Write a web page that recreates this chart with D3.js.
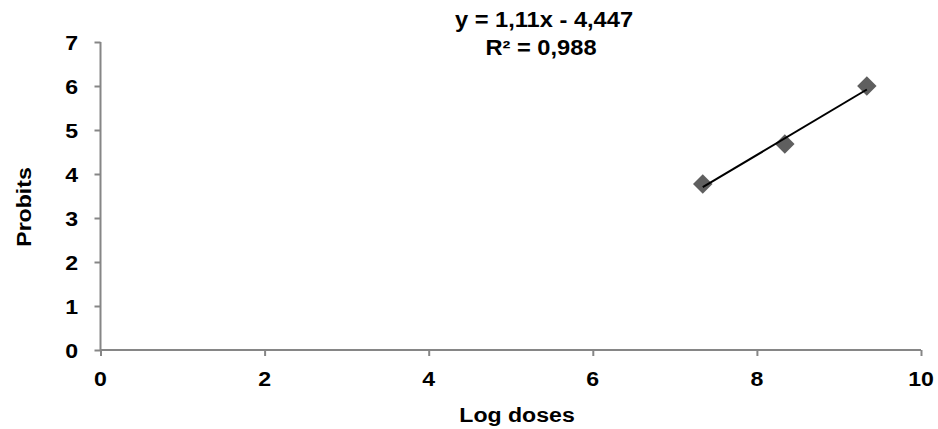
<!DOCTYPE html>
<html>
<head>
<meta charset="utf-8">
<script src="https://cdn.jsdelivr.net/npm/d3@7"></script>
<style>
  html, body { margin: 0; padding: 0; background: #fff; }
  svg { display: block; font-family: "Liberation Sans", Arial, sans-serif; font-weight: bold; }
</style>
</head>
<body>
<svg id="chart" width="938" height="429"></svg>
<script>
// Probit regression: log dose vs probit
const logDoses = [7.34, 8.34, 9.34];
const probits = [3.77, 4.68, 6.00];
const xTicks = [0, 2, 4, 6, 8, 10];
const yTicks = [0, 1, 2, 3, 4, 5, 6, 7];
const slope = 1.11;
const intercept = -4.447;
const equationLines = ["y = 1,11x - 4,447", "R² = 0,988"];

const svg = d3.select("#chart");
const margin = { left: 100.5, right: 17, top: 42, bottom: 79 };
const W = 938, H = 429;
const stretch = 1.1;   // slightly wide lettering
const fs = 21;

const x = d3.scaleLinear().domain([0, 10]).range([margin.left, W - margin.right]);
const y = d3.scaleLinear().domain([0, 7]).range([H - margin.bottom, margin.top]);

const axisColor = "#868686";

// text helper: places a label at (px, py) with horizontal stretch
function label(px, py, str, anchor, size, rotate) {
  return svg.append("text")
    .attr("transform", `translate(${px},${py})` + (rotate ? ` rotate(${rotate})` : "") + ` scale(${stretch},1)`)
    .attr("text-anchor", anchor)
    .attr("font-size", size)
    .attr("fill", "#000")
    .text(str);
}

// x axis
const gx = svg.append("g")
  .attr("transform", `translate(0,${y(0)})`)
  .call(d3.axisBottom(x).tickValues(xTicks).tickSize(6).tickFormat(""));
gx.select(".domain").attr("stroke", axisColor).attr("stroke-width", 2).attr("d", `M${x(0)},0H${x(10)}`);
gx.selectAll(".tick line").attr("stroke", axisColor).attr("stroke-width", 2);
xTicks.forEach(t => label(x(t), 386, String(t), "middle", fs));

// y axis
const gy = svg.append("g")
  .attr("transform", `translate(${x(0)},0)`)
  .call(d3.axisLeft(y).tickValues(yTicks).tickSize(6).tickFormat(""));
gy.select(".domain").attr("stroke", axisColor).attr("stroke-width", 2).attr("d", `M0,${y(0)}V${y(7)}`);
gy.selectAll(".tick line").attr("stroke", axisColor).attr("stroke-width", 2);
yTicks.forEach(t => label(78, y(t) + 7.5, String(t), "end", fs));

// diamond markers
const diamond = d3.symbol().type(d3.symbolSquare).size(190);
svg.append("g").selectAll("path")
  .data(logDoses.map((d, i) => [d, probits[i]]))
  .join("path")
  .attr("d", diamond)
  .attr("transform", d => `translate(${x(d[0])},${y(d[1])}) rotate(45)`)
  .attr("fill", "#5f5f5f");

// linear trendline over the data range, drawn above the markers
const x0 = d3.min(logDoses), x1 = d3.max(logDoses);
svg.append("line")
  .attr("x1", x(x0)).attr("y1", y(slope * x0 + intercept))
  .attr("x2", x(x1)).attr("y2", y(slope * x1 + intercept))
  .attr("stroke", "#000").attr("stroke-width", 2);

// equation label
label(544, 27, equationLines[0], "middle", 21.5);
label(541, 55, equationLines[1], "middle", 21.5);

// axis titles
label(517, 421.5, "Log doses", "middle", fs);
label(31, 207, "Probits", "middle", fs, -90);
</script>
</body>
</html>
